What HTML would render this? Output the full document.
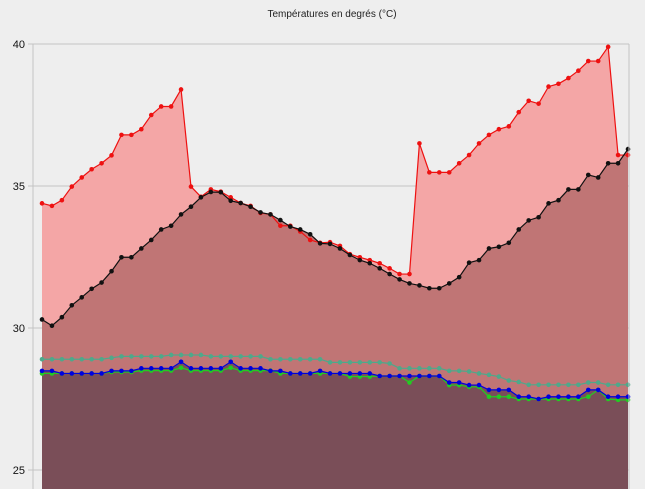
<!DOCTYPE html>
<html><head><meta charset="utf-8"><style>
html,body{margin:0;padding:0;background:#eeeeee;}
svg{display:block;font-family:"Liberation Sans",sans-serif;}
</style></head><body>
<svg id="chart" width="645" height="489" viewBox="0 0 645 489" xmlns="http://www.w3.org/2000/svg">
<rect x="0" y="0" width="645" height="489" fill="#eeeeee"/>
<text x="332" y="17" font-size="10" text-anchor="middle" fill="#222">Températures en degrés (°C)</text>
<g id="grid"></g>
<g id="areas"></g>
<g id="lines"></g>
<g id="axis"></g>
</svg>
<script>
const yTicks = [25, 30, 35, 40];
const tickLabels = ["25", "30", "35", "40"];
const seriesMax = [34.39,34.3,34.5,34.98,35.3,35.59,35.8,36.08,36.8,36.8,37.0,37.5,37.8,37.8,38.4,34.98,34.62,34.88,34.8,34.6,34.4,34.3,34.05,34.0,33.6,33.6,33.4,33.1,33.0,33.02,32.89,32.6,32.49,32.39,32.28,32.1,31.9,31.9,36.5,35.48,35.48,35.48,35.8,36.09,36.5,36.8,37.0,37.1,37.6,38.0,37.9,38.5,38.6,38.8,39.06,39.4,39.4,39.9,36.09,36.09];
const seriesAvg = [30.3,30.08,30.38,30.8,31.08,31.38,31.6,32.0,32.49,32.49,32.8,33.1,33.47,33.6,34.0,34.27,34.6,34.79,34.78,34.48,34.4,34.27,34.07,34.0,33.8,33.57,33.47,33.3,32.98,32.96,32.8,32.57,32.39,32.28,32.1,31.9,31.71,31.57,31.5,31.4,31.4,31.57,31.79,32.3,32.39,32.8,32.86,33.0,33.47,33.79,33.9,34.39,34.5,34.88,34.88,35.39,35.3,35.8,35.8,36.3];
const seriesTeal = [28.9,28.9,28.9,28.9,28.9,28.9,28.9,28.95,29.0,29.0,29.0,29.0,29.0,29.05,29.05,29.05,29.05,29.0,29.0,29.0,29.0,29.0,29.0,28.9,28.9,28.9,28.9,28.9,28.9,28.79,28.79,28.79,28.79,28.79,28.79,28.75,28.58,28.58,28.58,28.58,28.58,28.49,28.49,28.47,28.4,28.35,28.29,28.15,28.1,28.0,28.0,28.0,28.0,28.0,28.0,28.08,28.08,28.0,28.0,28.0];
const seriesGreen = [28.4,28.4,28.4,28.4,28.4,28.4,28.4,28.45,28.45,28.45,28.5,28.5,28.5,28.5,28.6,28.5,28.5,28.5,28.5,28.6,28.5,28.5,28.5,28.5,28.4,28.4,28.4,28.4,28.4,28.4,28.4,28.29,28.29,28.29,28.31,28.31,28.31,28.08,28.31,28.31,28.31,27.99,27.99,27.93,27.93,27.58,27.58,27.58,27.5,27.5,27.5,27.5,27.5,27.5,27.5,27.58,27.82,27.5,27.47,27.47];
const seriesBlue = [28.49,28.49,28.4,28.4,28.4,28.4,28.4,28.49,28.49,28.49,28.58,28.58,28.58,28.58,28.81,28.58,28.58,28.58,28.58,28.81,28.58,28.58,28.58,28.49,28.49,28.4,28.4,28.4,28.49,28.4,28.4,28.4,28.4,28.4,28.31,28.31,28.31,28.31,28.31,28.31,28.31,28.08,28.08,27.99,27.99,27.82,27.82,27.82,27.58,27.58,27.5,27.58,27.58,27.58,27.58,27.82,27.82,27.58,27.58,27.58];

const NS = "http://www.w3.org/2000/svg";
const x0 = 42, x1 = 628;
const n = seriesMax.length;
function xs(i){ return x0 + (x1 - x0) * i / (n - 1); }
function ys(v){ return 44 + (40 - v) * 28.4; }
function mk(tag, attrs, parent){
  const e = document.createElementNS(NS, tag);
  for (const k in attrs) e.setAttribute(k, attrs[k]);
  parent.appendChild(e);
  return e;
}
const gridG = document.getElementById('grid');
const areasG = document.getElementById('areas');
const linesG = document.getElementById('lines');
const axisG = document.getElementById('axis');

yTicks.forEach((t, i) => {
  const gl = mk('line', {x1: 28, x2: 629, y1: ys(t), y2: ys(t), stroke: '#c4c4c4', 'stroke-width': 1}, gridG);
  
  
  const tx = mk('text', {x: 25, y: ys(t) + 4, 'font-size': 11, 'text-anchor': 'end', fill: '#111'}, axisG);
  tx.textContent = tickLabels[i];
  
  
});
const ax = mk('line', {x1: 33, x2: 33, y1: 44, y2: 489, stroke: '#c4c4c4', 'stroke-width': 1}, axisG);


const rx = mk('line', {x1: 629, x2: 629, y1: 44, y2: 489, stroke: '#c4c4c4', 'stroke-width': 1}, axisG);



function area(data, fill, name){
  let d = 'M' + xs(0) + ',489';
  data.forEach((v, i) => { d += ' L' + xs(i) + ',' + ys(v); });
  d += ' L' + xs(n - 1) + ',489 Z';
  const p = mk('path', {d: d, fill: fill}, areasG);
  
  
}
area(seriesMax, '#f4a6a6', 'area-max');
area(seriesAvg, '#c07575', 'area-avg');
area(seriesBlue, '#7a4e58', 'area-blue');

function line(data, color, name){
  const pts = data.map((v, i) => xs(i) + ',' + ys(v)).join(' ');
  const pl = mk('polyline', {points: pts, fill: 'none', stroke: color, 'stroke-width': 1.2}, linesG);
  
  
  data.forEach((v, i) => {
    const c = mk('circle', {cx: xs(i), cy: ys(v), r: 2.3, fill: color}, linesG);
    
    
  });
}
line(seriesTeal, '#4fa88a', 'series-teal');
line(seriesGreen, '#22cc22', 'series-green');
line(seriesBlue, '#0000dd', 'series-blue');
line(seriesMax, '#ee1111', 'series-max');
line(seriesAvg, '#111111', 'series-avg');
const topBorder = mk('line', {x1: 33, x2: 629, y1: 44, y2: 44, stroke: '#c4c4c4', 'stroke-width': 1}, axisG);


</script>
</body></html>
